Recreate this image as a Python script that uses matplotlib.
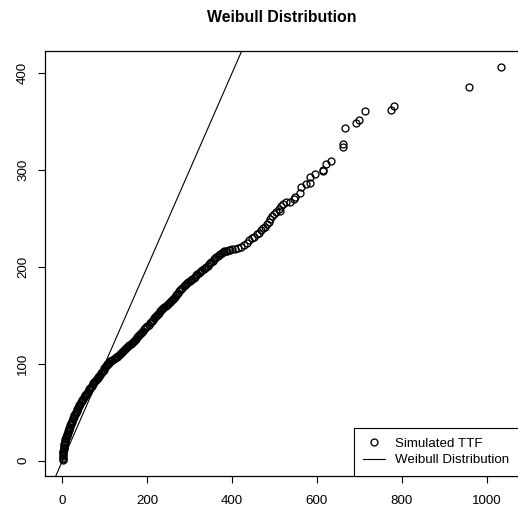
import matplotlib
matplotlib.use("Agg")
import matplotlib.pyplot as plt

plt.rcParams['font.family'] = ['Liberation Sans', 'DejaVu Sans']

# Q-Q style plot: simulated time-to-failure vs Weibull quantiles
# first pass of reads along the curve (x, y)
ttf_x = [
    0.3, 0.8, 1.2, 1.8, 2.6, 3.5, 4.6, 5.8, 7.2, 8.8,
    10.5, 12.3, 14.3, 16.3, 18.5, 20.8, 23.2, 25.7, 28.3, 31,
    34, 37, 40.2, 43.5, 47, 50.5, 54, 57.8, 61.5, 65.3,
    69, 73, 77, 81, 85, 89, 93, 97, 100.5, 104,
    108, 113, 118, 123, 128, 133, 138, 143, 148, 153,
    158, 163, 168, 173, 178, 183, 188, 193, 198, 203,
    208, 213, 218, 223, 228, 233, 238, 243, 248, 253,
    258, 263, 268, 273, 278, 283, 288,
    294, 300, 306, 312, 318, 324, 330, 336, 342, 348,
    354, 360, 366, 372, 378, 385, 392, 399, 406, 413, 421,
    428, 434, 440, 446, 452, 458, 463, 468, 473, 478,
    482, 486, 490, 494, 499, 504, 510, 512, 516, 520,
    528, 536, 545, 548,
    561, 563.4, 575, 584.6, 584.6, 594.8, 613.5, 615, 622.3, 632.5,
    661.5, 661.5, 667, 693, 698.5, 714.3, 774, 781.7, 957.8, 1034.9,
]
ttf_y = [
    0.5, 3, 6, 9, 12, 14.5, 17, 19.5, 22, 24.3,
    26.5, 29, 31.5, 34, 36.5, 39, 41.5, 44, 46.8, 49.2,
    51.8, 54.5, 57.5, 60.2, 62.8, 65.3, 67.8, 70.2, 72.5, 75,
    77.4, 79.9, 82.4, 84.5, 86.6, 88.7, 91.4, 94, 96.4, 98.4,
    100.2, 102.4, 104.2, 105.8, 107.5, 109.4, 111.3, 113.3, 115.4, 117.3,
    119.1, 121, 123.2, 126, 128.6, 131, 133.2, 135.4, 137.8, 140.4,
    143, 145.6, 148.1, 150.5, 152.9, 155.2, 157.4, 159.4, 161.4, 163.4,
    165.6, 168.1, 170.8, 173.5, 176.1, 178.6, 181,
    183.4, 185.6, 187.8, 190, 192.2, 194.3, 196.5, 198.7, 201.2, 203.8,
    206.4, 208.9, 211.3, 213.6, 215.3, 216.4, 217.3, 218.1, 218.8, 219.6, 220.5,
    222.8, 225, 227.2, 229.3, 231.2, 233.4, 235.4, 237.6, 239.6, 241.6,
    243.8, 246.5, 249.5, 252, 254.6, 256.8, 259.8, 257.5, 262.8, 264.7,
    267, 266.5, 269.6, 272.3,
    275.8, 282.6, 285.4, 286, 293, 295.4, 298.6, 299.4, 306, 309.5,
    323.4, 326.8, 343.6, 348, 351, 361, 361.6, 366.4, 385.4, 406.4,
]

# second pass of reads inside the dense (solid black) part of the curve
band_x = [
    0.5, 1, 1.5, 2.2, 3, 4, 5.2, 6.5, 8, 9.6,
    11.4, 13.3, 15.3, 17.4, 19.6, 22, 24.5, 27, 29.6, 32.5,
    35.5, 38.6, 41.8, 45.2, 48.7, 52.2, 55.9, 59.6, 63.4, 67.1,
    71, 75, 79, 83, 87, 91, 95, 98.8, 102.2, 106,
    110.5, 115.5, 120.5, 125.5, 130.5, 135.5, 140.5, 145.5, 150.5, 155.5,
    160.5, 165.5, 170.5, 175.5, 180.5, 185.5, 190.5, 195.5, 200.5, 205.5,
    210.5, 215.5, 220.5, 225.5, 230.5, 235.5, 240.5, 245.5, 250.5, 255.5,
    260.5, 265.5, 270.5, 275.5, 280.5, 285.5, 291,
    297, 303, 309, 315, 321, 327, 333, 339, 345, 351,
    357, 363, 369, 375, 381.5, 388.5, 395.5,
]
band_y = [
    1.8, 4.5, 7.5, 10.5, 13.4, 15.8, 18.3, 20.8, 23.2, 25.4,
    27.8, 30.3, 32.8, 35.2, 37.8, 40.3, 42.8, 45.4, 48, 50.5,
    53.2, 56, 58.9, 61.5, 64, 66.6, 69, 71.4, 73.8, 76.2,
    78.7, 81.2, 83.5, 85.6, 87.6, 90, 92.7, 95.2, 97.4, 99.3,
    101.3, 103.3, 105, 106.6, 108.5, 110.3, 112.3, 114.4, 116.4, 118.2,
    120, 122.1, 124.6, 127.3, 129.8, 132.1, 134.3, 136.6, 139.1, 141.7,
    144.3, 146.9, 149.3, 151.7, 154, 156.3, 158.4, 160.4, 162.4, 164.5,
    166.8, 169.4, 172.1, 174.8, 177.3, 179.8, 182.2,
    184.5, 186.7, 188.9, 191.1, 193.2, 195.4, 197.6, 199.9, 202.5, 205.1,
    207.6, 210.1, 212.5, 214.5, 215.9, 216.8, 217.7,
]

x_ticks = [0, 200, 400, 600, 800, 1000]
y_ticks = [0, 100, 200, 300, 400]

all_x = ttf_x + band_x
all_y = ttf_y + band_y

fig = plt.figure(figsize=(5.18, 5.13), dpi=100)
ax = fig.add_axes([0.0869, 0.0721, 0.915, 0.8285])

ax.plot(all_x, all_y, linestyle='none', marker='o', markersize=5.0,
        markerfacecolor='none', markeredgecolor='black', markeredgewidth=0.95,
        label='Simulated TTF')
ax.axline((0, 0), slope=1, color='black', linewidth=0.8, label='Weibull Distribution')

# R style 4% padding
xr = max(all_x) - min(all_x)
yr = max(all_y) - min(all_y)
ax.set_xlim(min(all_x) - 0.04 * xr, max(all_x) + 0.04 * xr)
ax.set_ylim(min(all_y) - 0.04 * yr, max(all_y) + 0.04 * yr)

ax.set_xticks(x_ticks)
ax.set_yticks(y_ticks)
ax.tick_params(direction='out', length=5, width=0.8, labelsize=9.6)
ax.tick_params(axis='x', pad=9)
ax.tick_params(axis='y', pad=6.5)
plt.setp(ax.get_yticklabels(), rotation=90, va='center')
for s in ax.spines.values():
    s.set_linewidth(0.9)

ax.set_title('Weibull Distribution', fontsize=11.4, fontweight='bold', pad=21)

leg = ax.legend(loc='lower right', bbox_to_anchor=(1, 0), borderaxespad=0,
                fontsize=9.6, fancybox=False, framealpha=1, edgecolor='black',
                handlelength=1.6, handletextpad=0.8, borderpad=0.72,
                labelspacing=0.3)
leg.get_frame().set_linewidth(0.8)

fig.savefig('out.png', dpi=100)
